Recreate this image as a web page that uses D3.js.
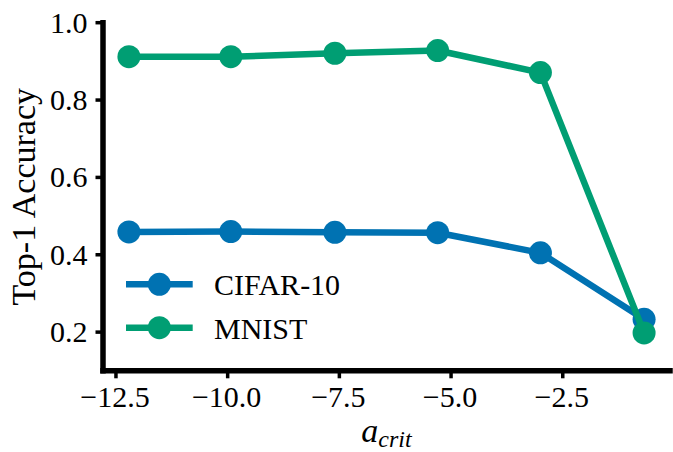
<!DOCTYPE html>
<html>
<head>
<meta charset="utf-8">
<script src="https://cdn.jsdelivr.net/npm/d3@7"></script>
<style>
  html, body { margin: 0; padding: 0; background: #fff; }
  svg { display: block; }
</style>
</head>
<body>
<svg id="chart" width="673" height="452"></svg>
<script>
// ---- data ----
const aCrit = [-12.21, -9.93, -7.60, -5.30, -3.00, -0.68];
const cifar10 = [0.459, 0.460, 0.458, 0.457, 0.405, 0.233];
const mnist = [0.912, 0.912, 0.921, 0.928, 0.871, 0.198];
const seriesNames = ["CIFAR-10", "MNIST"];
const seriesColors = ["#0072B2", "#009E73"];
const xTicks = [-12.5, -10.0, -7.5, -5.0, -2.5];
const yTicks = [0.2, 0.4, 0.6, 0.8, 1.0];

const series = [
  { name: seriesNames[0], color: seriesColors[0], values: cifar10 },
  { name: seriesNames[1], color: seriesColors[1], values: mnist }
];

// ---- layout ----
const FONT = "'Liberation Serif', 'Times New Roman', Times, serif";
const svg = d3.select("#chart");
const pLeft = 103, pRight = 670, pTop = 22.7, pBottom = 370.8;
const x = d3.scaleLinear().domain([-12.79, -0.10]).range([pLeft, pRight]);
const y = d3.scaleLinear().domain([0.1, 1.0]).range([pBottom, pTop]);

const spineW = 5.5, tickW = 3.5, tickLen = 7.5;
const lineW = 6.5, markerR = 11.5;
const fmtMinus = v => d3.format(".1f")(v).replace("-", "\u2212");

// series lines + markers
const line = d3.line().x((d, i) => x(aCrit[i])).y(d => y(d));
series.forEach(s => {
  const g = svg.append("g");
  g.append("path")
    .attr("d", line(s.values))
    .attr("fill", "none")
    .attr("stroke", s.color)
    .attr("stroke-width", lineW)
    .attr("stroke-linejoin", "round")
    .attr("stroke-linecap", "butt");
  g.selectAll("circle").data(s.values).enter().append("circle")
    .attr("cx", (d, i) => x(aCrit[i]))
    .attr("cy", d => y(d))
    .attr("r", markerR)
    .attr("fill", s.color);
});

// spines
svg.append("line")
  .attr("x1", pLeft).attr("x2", pLeft)
  .attr("y1", pBottom).attr("y2", pTop)
  .attr("stroke", "#000").attr("stroke-width", spineW).attr("stroke-linecap", "square");
svg.append("line")
  .attr("x1", pLeft).attr("x2", pRight)
  .attr("y1", pBottom).attr("y2", pBottom)
  .attr("stroke", "#000").attr("stroke-width", spineW).attr("stroke-linecap", "square");

// y ticks
const yAxis = svg.append("g");
yTicks.forEach(t => {
  yAxis.append("line")
    .attr("x1", pLeft - tickLen).attr("x2", pLeft)
    .attr("y1", y(t)).attr("y2", y(t))
    .attr("stroke", "#000").attr("stroke-width", tickW);
  yAxis.append("text")
    .attr("x", 87.5).attr("y", y(t) + 10)
    .attr("text-anchor", "end")
    .attr("font-family", FONT)
    .attr("font-size", 30)
    .text(d3.format(".1f")(t));
});

// x ticks
const xAxis = svg.append("g");
xTicks.forEach(t => {
  xAxis.append("line")
    .attr("x1", x(t)).attr("x2", x(t))
    .attr("y1", pBottom).attr("y2", pBottom + tickLen)
    .attr("stroke", "#000").attr("stroke-width", tickW);
  xAxis.append("text")
    .attr("x", x(t) - 1).attr("y", 407)
    .attr("text-anchor", "middle")
    .attr("font-family", FONT)
    .attr("font-size", 30)
    .text(fmtMinus(t));
});

// axis labels
svg.append("text")
  .attr("transform", `translate(35, ${(pTop + pBottom) / 2}) rotate(-90)`)
  .attr("text-anchor", "middle")
  .attr("font-family", FONT)
  .attr("font-size", 34)
  .text("Top-1 Accuracy");

const xl = svg.append("text")
  .attr("x", (pLeft + pRight) / 2)
  .attr("y", 442)
  .attr("text-anchor", "middle")
  .attr("font-family", FONT)
  .attr("font-style", "italic");
xl.append("tspan").attr("font-size", 34).text("a");
xl.append("tspan").attr("font-size", 24).attr("dy", 5).text("crit");

// legend
const legX0 = 126, legX1 = 192.7, legY0 = 284.3, legDy = 43.4;
series.forEach((s, i) => {
  const cy = legY0 + i * legDy;
  svg.append("line")
    .attr("x1", legX0).attr("x2", legX1)
    .attr("y1", cy).attr("y2", cy)
    .attr("stroke", s.color).attr("stroke-width", lineW);
  svg.append("circle")
    .attr("cx", (legX0 + legX1) / 2).attr("cy", cy)
    .attr("r", markerR).attr("fill", s.color);
  svg.append("text")
    .attr("x", 214).attr("y", cy + 11)
    .attr("font-family", FONT)
    .attr("font-size", 30)
    .text(s.name);
});
</script>
</body>
</html>
